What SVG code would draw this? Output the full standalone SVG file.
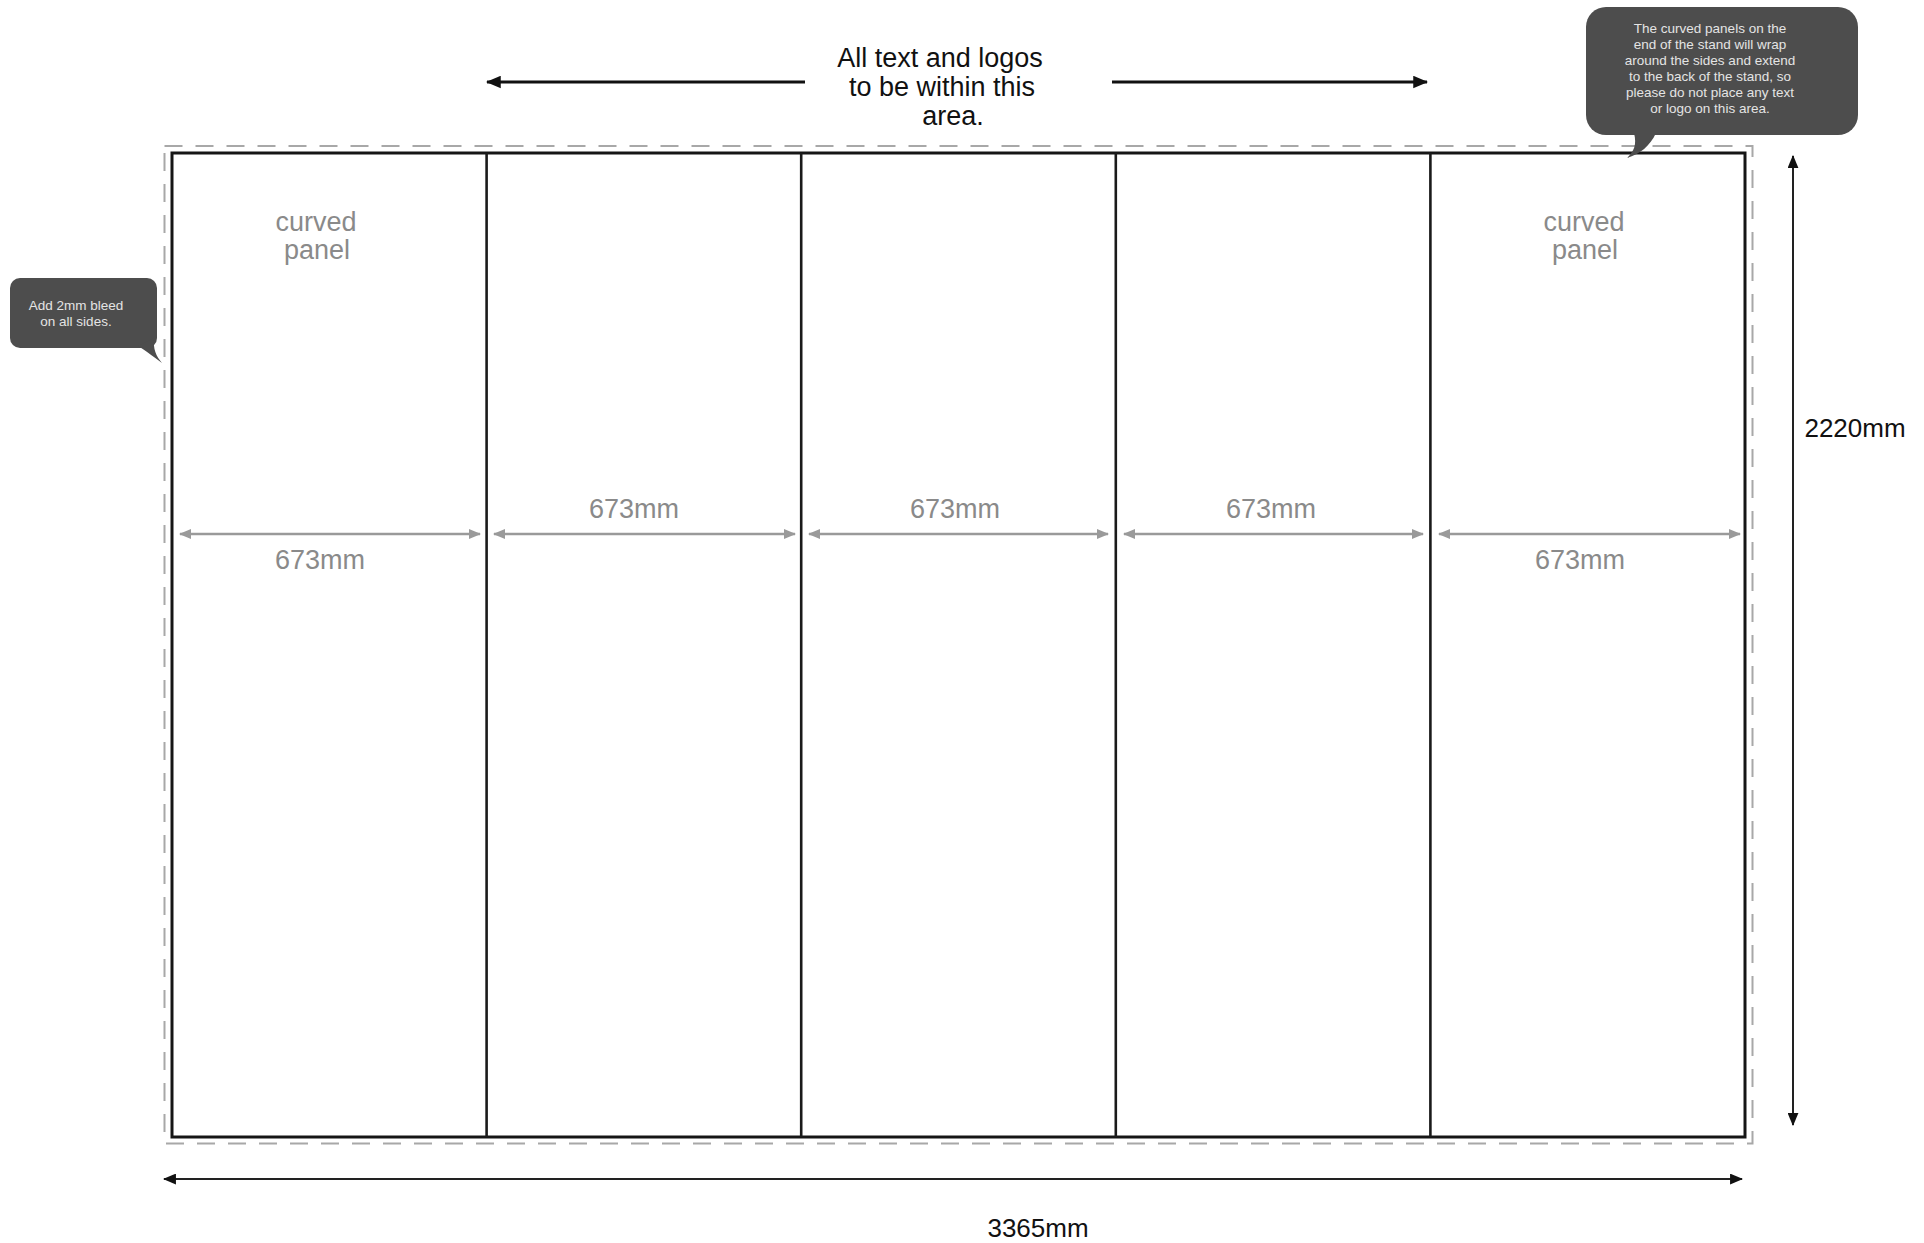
<svg xmlns="http://www.w3.org/2000/svg" width="1924" height="1243" viewBox="0 0 1924 1243">
<style>
.panel{fill:#fff;stroke:#161616;stroke-width:3}
.div{stroke:#1a1a1a;stroke-width:2.6}
.bleed{fill:none;stroke:#a8a8a8;stroke-width:2;stroke-dasharray:18 13}
.gtxt{font-family:"Liberation Sans",Arial,sans-serif;font-size:27px;fill:#8a8a8a;text-anchor:middle}
.btxt{font-family:"Liberation Sans",Arial,sans-serif;fill:#111;text-anchor:middle}
.ctxt{font-family:"Liberation Sans",Arial,sans-serif;font-size:13.5px;fill:#e4e4e4;text-anchor:middle}
.gdim{stroke:#9a9a9a;stroke-width:2.5;marker-start:url(#ga);marker-end:url(#ga)}
.bdim{stroke:#222;stroke-width:2;marker-start:url(#ba);marker-end:url(#ba)}
.callout{fill:#4d4d4d}
</style>
<defs>
<marker id="ga" viewBox="0 0 12 10" refX="11" refY="5" markerWidth="12" markerHeight="10" markerUnits="userSpaceOnUse" orient="auto-start-reverse"><path d="M0,0 L12,5 L0,10 Z" fill="#9a9a9a"/></marker>
<marker id="ba" viewBox="0 0 12 10" refX="11" refY="5" markerWidth="13" markerHeight="11" markerUnits="userSpaceOnUse" orient="auto-start-reverse"><path d="M0,0 L12,5 L0,10 Z" fill="#111"/></marker>
<marker id="bt" viewBox="0 0 12 10" refX="11" refY="5" markerWidth="15" markerHeight="13" markerUnits="userSpaceOnUse" orient="auto"><path d="M0,0 L12,5 L0,10 Z" fill="#111"/></marker>
</defs>
<rect width="1924" height="1243" fill="#fff"/>

<g id="bleed-area"><rect class="bleed" x="164.5" y="146" width="1588" height="997.5"/></g>

<g id="stand">
<rect class="panel" x="172" y="153" width="1573" height="984"/>
<line class="div" x1="486.6" y1="153" x2="486.6" y2="1137"/>
<line class="div" x1="801.2" y1="153" x2="801.2" y2="1137"/>
<line class="div" x1="1115.8" y1="153" x2="1115.8" y2="1137"/>
<line class="div" x1="1430.4" y1="153" x2="1430.4" y2="1137"/>
</g>

<g id="panel-1"><text class="gtxt" x="316" y="231">curved</text><text class="gtxt" x="317" y="259">panel</text><text class="gtxt" x="320" y="569">673mm</text></g>
<g id="panel-2"><text class="gtxt" x="634" y="518">673mm</text></g>
<g id="panel-3"><text class="gtxt" x="955" y="518">673mm</text></g>
<g id="panel-4"><text class="gtxt" x="1271" y="518">673mm</text></g>
<g id="panel-5"><text class="gtxt" x="1584" y="231">curved</text><text class="gtxt" x="1585" y="259">panel</text><text class="gtxt" x="1580" y="569">673mm</text></g>

<g id="safe-area-label">
<text class="btxt" font-size="27" x="940" y="67">All text and logos</text>
<text class="btxt" font-size="27" x="942" y="96">to be within this</text>
<text class="btxt" font-size="27" x="953" y="125">area.</text>
</g>

<g id="height-label"><text class="btxt" font-size="26" x="1855" y="437">2220mm</text></g>
<g id="width-label"><text class="btxt" font-size="26" x="1038" y="1237">3365mm</text></g>

<g id="callout-curved">
<rect class="callout" x="1586" y="7" width="272" height="128" rx="20"/>
<path class="callout" d="M1634,133 C1637,145 1634,151 1627,158 C1640,154 1650,146 1656,133 Z"/>
<text class="ctxt" x="1710" y="33">The curved panels on the</text>
<text class="ctxt" x="1710" y="49">end of the stand will wrap</text>
<text class="ctxt" x="1710" y="65">around the sides and extend</text>
<text class="ctxt" x="1710" y="81">to the back of the stand, so</text>
<text class="ctxt" x="1710" y="97">please do not place any text</text>
<text class="ctxt" x="1710" y="113">or logo on this area.</text>
</g>

<g id="callout-bleed">
<rect class="callout" x="10" y="278" width="147" height="70" rx="10"/>
<path class="callout" d="M138,346 C148,352 155,358 162,363 C156,356 153,349 154,338 Z"/>
<text class="ctxt" x="76" y="310">Add 2mm bleed</text>
<text class="ctxt" x="76" y="326">on all sides.</text>
</g>

<g id="connectors">
<line class="gdim" x1="180" y1="534" x2="480" y2="534"/>
<line class="gdim" x1="494" y1="534" x2="795" y2="534"/>
<line class="gdim" x1="809" y1="534" x2="1108" y2="534"/>
<line class="gdim" x1="1124" y1="534" x2="1423" y2="534"/>
<line class="gdim" x1="1439" y1="534" x2="1740" y2="534"/>
<line class="bdim" x1="164" y1="1179" x2="1742" y2="1179"/>
<line class="bdim" x1="1793" y1="156" x2="1793" y2="1125"/>
<line x1="805" y1="82" x2="487" y2="82" stroke="#111" stroke-width="3.2" marker-end="url(#bt)"/>
<line x1="1112" y1="82" x2="1427" y2="82" stroke="#111" stroke-width="3.2" marker-end="url(#bt)"/>
</g>
</svg>
